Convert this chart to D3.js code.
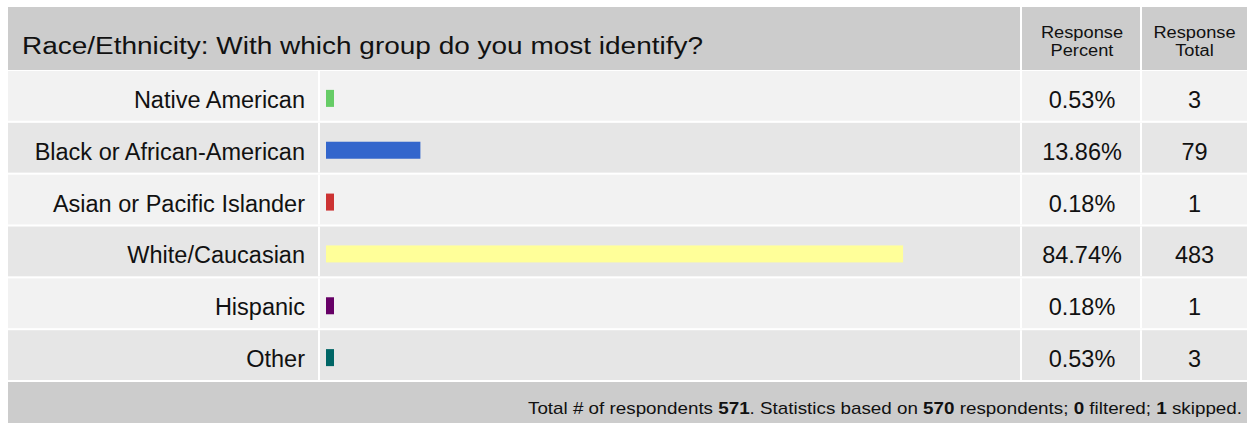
<!DOCTYPE html>
<html>
<head>
<meta charset="utf-8">
<script src="https://cdn.jsdelivr.net/npm/d3@7"></script>
<style>
  body { margin: 0; background: #fff; }
  text { font-family: Arial, "Liberation Sans", sans-serif; fill: #111; }
</style>
</head>
<body>
<div id="chart"></div>
<script>
const categories = ["Native American", "Black or African-American", "Asian or Pacific Islander",
    "White/Caucasian", "Hispanic", "Other"];
const percents = [0.53, 13.86, 0.18, 84.74, 0.18, 0.53];
const totals = [3, 79, 1, 483, 1, 3];
const barColors = ["#66cc66", "#3366cc", "#cc3333", "#ffff99", "#660066", "#006666"];
const title = "Race/Ethnicity: With which group do you most identify?";
const colHeads = [["Response", "Percent"], ["Response", "Total"]];
const footer = [["Total # of respondents ", false], ["571", true], [". Statistics based on ", false],
    ["570", true], [" respondents; ", false], ["0", true], [" filtered; ", false], ["1", true], [" skipped.", false]];

const W = 1248, H = 423;
const left = 8, right = 1247;
const labelEnd = 320, barEnd = 1022, pctEnd = 1142;
const headTop = 7, headBottom = 71, footTop = 382;
const bodySize = 23.5;

let svg = d3.select("#chart").append("svg")
    .attr("width", W)
    .attr("height", H);

svg.append("rect").attr("width", W).attr("height", H).attr("fill", "#fff");

//header
svg.append("rect")
    .attr("x", left).attr("y", headTop)
    .attr("width", right - left).attr("height", headBottom - headTop - 1)
    .attr("fill", "#cccccc");
svg.append("text")
    .attr("x", 22).attr("y", 54)
    .attr("font-size", 23.5)
    .attr("textLength", 681)
    .attr("lengthAdjust", "spacingAndGlyphs")
    .text(title);

const colCenters = [(barEnd + pctEnd) / 2, (pctEnd + right) / 2];
colHeads.forEach(function(lines, i) {
    lines.forEach(function(l, j) {
        let t = svg.append("text")
            .attr("x", colCenters[i]).attr("y", 38 + j * 18)
            .attr("text-anchor", "middle")
            .attr("font-size", 16)
            .text(l);
        //the headings are drawn a bit wide in the original
        t.attr("textLength", t.node().getComputedTextLength() * 1.14)
            .attr("lengthAdjust", "spacingAndGlyphs");
    });
});
[barEnd, pctEnd].forEach(function(x) {
    svg.append("rect").attr("x", x - 2).attr("y", headTop).attr("width", 2)
        .attr("height", headBottom - headTop).attr("fill", "#fff");
});

//rows
let scaleY = d3.scaleBand().domain(categories).range([headBottom, footTop - 2]).paddingInner(0.04);
let scaleX = d3.scaleLinear().domain([0, 100]).range([326, 1007]);

let rows = svg.selectAll(".row")
    .data(categories)
    .join("g")
    .attr("class", "row")
    .attr("transform", d => `translate(0,${scaleY(d)})`);

rows.append("rect")
    .attr("x", left).attr("width", right - left)
    .attr("height", scaleY.bandwidth())
    .attr("fill", (d, i) => i % 2 === 0 ? "#f2f2f2" : "#e6e6e6");

[labelEnd, barEnd, pctEnd].forEach(function(x) {
    rows.append("rect").attr("x", x - 2).attr("width", 2)
        .attr("height", scaleY.bandwidth()).attr("fill", "#fff");
});

const mid = scaleY.bandwidth() / 2;
const base = mid + 12;

rows.append("text")
    .attr("x", 305).attr("y", base)
    .attr("text-anchor", "end")
    .attr("font-size", bodySize)
    .text(d => d);

rows.append("rect")
    .attr("x", scaleX(0))
    .attr("y", mid - 6)
    .attr("height", 17)
    .attr("width", (d, i) => Math.max(scaleX(percents[i]) - scaleX(0), 8))
    .attr("fill", (d, i) => barColors[i]);

rows.append("text")
    .attr("x", colCenters[0]).attr("y", base)
    .attr("text-anchor", "middle")
    .attr("font-size", bodySize)
    .text((d, i) => percents[i].toFixed(2) + "%");

rows.append("text")
    .attr("x", colCenters[1]).attr("y", base)
    .attr("text-anchor", "middle")
    .attr("font-size", bodySize)
    .text((d, i) => totals[i]);

//footer
svg.append("rect")
    .attr("x", left).attr("y", footTop)
    .attr("width", right - left).attr("height", H - footTop)
    .attr("fill", "#cccccc");
let ft = svg.append("text")
    .attr("x", 1242).attr("y", 414)
    .attr("text-anchor", "end")
    .attr("font-size", 17)
    .attr("textLength", 714)
    .attr("lengthAdjust", "spacingAndGlyphs");
footer.forEach(function(p) {
    ft.append("tspan").attr("font-weight", p[1] ? "bold" : "normal").text(p[0]);
});
</script>
</body>
</html>
